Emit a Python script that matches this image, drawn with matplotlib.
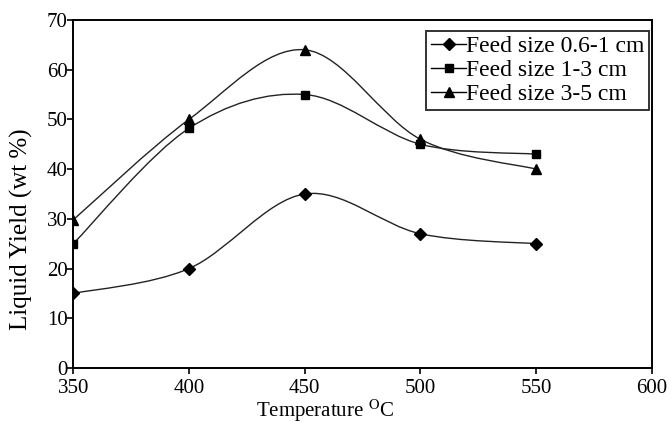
import numpy as np
import matplotlib
matplotlib.use("Agg")
import matplotlib.pyplot as plt
from matplotlib.path import Path
from matplotlib.patches import PathPatch

#----------------------------------------------------------
temps = [350, 400, 450, 500, 550]
size_06_1 = [15, 20, 35, 27, 25]
size_1_3 = [25, 48.2, 55, 45, 43]
size_3_5 = [29.8, 50, 64, 46, 40]
labels = ["Feed size 0.6-1 cm", "Feed size 1-3 cm", "Feed size 3-5 cm"]
markers = ["D", "s", "^"]
msizes = [6, 5.5, 7]
#----------------------------------------------------------
plt.rcParams['font.family'] = ['Liberation Serif', 'DejaVu Serif']
plt.rcParams['mathtext.fontset'] = 'stix'

def smooth_path(x, y):
	""" excel-like smoothed line: bezier segments through the points """
	pts = np.column_stack((x, y)).astype(float)
	n = len(pts)
	verts = [pts[0]]
	codes = [Path.MOVETO]
	for i in range(n - 1):
		p0 = pts[max(i - 1, 0)]
		p1 = pts[i]
		p2 = pts[i + 1]
		p3 = pts[min(i + 2, n - 1)]
		c1 = p1 + (p2 - p0) / 6.0
		c2 = p2 - (p3 - p1) / 6.0
		verts += [c1, c2, p2]
		codes += [Path.CURVE4] * 3
	return Path(verts, codes)
#----------------------------------------------------------
fig = plt.figure(figsize=(6.72, 4.24), dpi=100)
ax = fig.add_axes([0.109, 0.132, 0.861, 0.821])

for ys, lab, m, ms in zip([size_06_1, size_1_3, size_3_5], labels, markers, msizes):
	ax.add_patch(PathPatch(smooth_path(temps, ys), facecolor='none', edgecolor='#222222', lw=1.0))
	ax.plot(temps, ys, linestyle='none', marker=m, markersize=ms, color='black')
	ax.plot([], [], '-', color='black', lw=1.0, marker=m, markersize=ms, label=lab)

ax.set_xlim([350, 600])
ax.set_ylim([0, 70])
ax.set_xticks(np.arange(350, 601, 50))
ax.set_yticks(np.arange(0, 71, 10))
ax.tick_params(direction='out', length=4, width=1.2, labelsize=15, colors='black')
ax.tick_params(axis='y', pad=0)
ax.tick_params(axis='x', pad=4)
for s in ax.spines.values():
	s.set_linewidth(1.4)

ax.set_xlabel(r'Temperature $^{\mathrm{O}}$C', fontsize=15)
ax.set_ylabel('Liquid Yield (wt %)', fontsize=18)
ax.xaxis.set_label_coords(0.435, -0.085)
ax.yaxis.set_label_coords(-0.07, 0.4)

leg = ax.legend(loc='upper right', bbox_to_anchor=(1.0, 0.975), fontsize=17,
	frameon=True, fancybox=False, edgecolor='black', handlelength=1.5,
	handletextpad=0.0, borderpad=0.2, labelspacing=0.1, borderaxespad=0.1)
leg.get_frame().set_linewidth(1.4)

fig.savefig('out.png', dpi=100)
